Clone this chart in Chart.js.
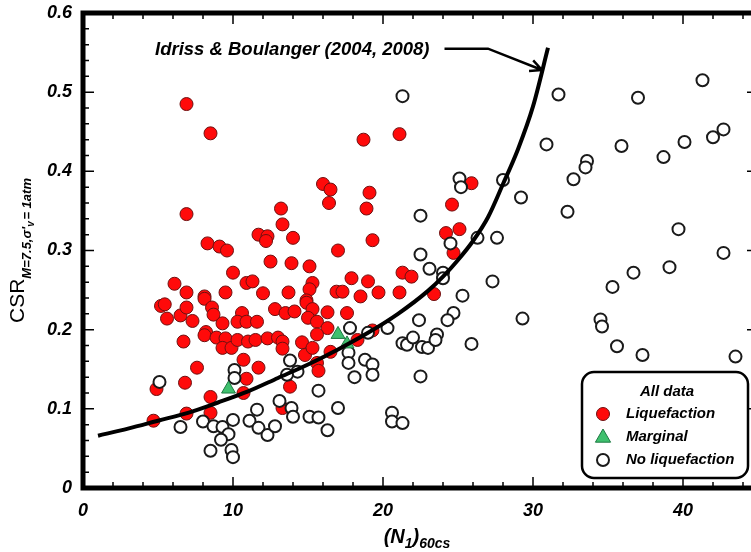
<!DOCTYPE html>
<html>
<head>
<meta charset="utf-8">
<script src="https://cdn.jsdelivr.net/npm/chart.js@4.4.0/dist/chart.umd.min.js"></script>
<style>
  html, body { margin: 0; padding: 0; background: #fff; overflow: hidden; }
  #wrap { width: 751px; height: 552px; overflow: hidden; }
</style>
</head>
<body>
<div id="wrap"><canvas id="chart" width="767" height="552"></canvas></div>
<script>
// (N1)60cs and CSR values
const liqN = [6.9, 8.5, 6.9, 8.3, 9.1, 9.6, 10.0, 6.1, 10.9, 11.3, 6.9, 8.1, 9.5, 12.0, 11.7, 12.3, 12.2, 12.5, 13.2, 13.3,
  18.7, 21.1, 16.0, 16.5, 16.4, 19.1, 18.9, 14.0, 19.3, 17.0, 25.9, 24.6, 25.1, 24.2, 13.9, 15.1, 13.7, 15.3, 15.1, 14.9,
  16.9, 17.3, 17.9, 19.0, 18.5, 19.7, 21.3, 21.9, 21.1, 23.4, 24.7, 5.2, 5.45, 5.6, 6.5, 6.9, 7.3, 8.1, 8.6, 8.7,
  9.3, 8.2, 8.1, 8.9, 9.5, 9.3, 9.9, 10.3, 10.6, 10.3, 10.9, 11.6, 11.0, 11.5, 6.7, 10.7, 7.6, 11.7, 10.9, 6.8,
  4.9, 10.7, 8.5, 8.5, 6.9, 4.7, 12.8, 13.5, 14.1, 14.9, 15.3, 16.3, 17.6, 15.0, 15.6, 16.3, 12.3, 13.0, 13.3, 13.3,
  14.6, 14.8, 15.3, 15.6, 16.5, 15.6, 15.7, 13.8, 13.3, 18.3, 19.3];
const liqCSR = [0.485, 0.448, 0.346, 0.309, 0.305, 0.300, 0.272, 0.258, 0.259, 0.261, 0.247, 0.242, 0.247, 0.246, 0.320, 0.318, 0.312, 0.286, 0.353, 0.333,
  0.440, 0.447, 0.384, 0.377, 0.360, 0.373, 0.353, 0.316, 0.313, 0.300, 0.385, 0.358, 0.327, 0.322, 0.284, 0.280, 0.247, 0.259, 0.251, 0.237,
  0.248, 0.248, 0.265, 0.261, 0.242, 0.247, 0.272, 0.267, 0.247, 0.245, 0.297, 0.230, 0.232, 0.214, 0.218, 0.228, 0.211, 0.239, 0.228, 0.219,
  0.208, 0.197, 0.193, 0.190, 0.189, 0.177, 0.177, 0.187, 0.221, 0.210, 0.210, 0.210, 0.185, 0.187, 0.185, 0.162, 0.152, 0.152, 0.138, 0.133,
  0.125, 0.120, 0.115, 0.095, 0.094, 0.085, 0.226, 0.221, 0.223, 0.234, 0.226, 0.222, 0.221, 0.215, 0.210, 0.202, 0.189, 0.190, 0.185, 0.176,
  0.184, 0.168, 0.177, 0.194, 0.172, 0.158, 0.148, 0.128, 0.101, 0.187, 0.199];

const margN = [9.7, 17.0, 17.6];
const margCSR = [0.125, 0.194, 0.182];

const nonN = [5.1, 10.1, 10.1, 6.5, 8.0, 8.7, 9.3, 10.0, 9.7, 9.2, 8.5, 9.9, 10.0, 11.1, 11.6, 11.7, 12.3, 12.8, 13.1, 13.9,
  14.0, 15.1, 15.7, 16.3, 17.0, 15.7, 13.8, 14.3, 13.6, 17.7, 17.7, 18.8, 19.3, 19.3, 18.1, 17.8, 19.0, 20.3, 20.6, 20.6,
  21.3, 21.3, 21.6, 22.0, 22.6, 23.0, 22.5, 22.4, 23.6, 23.5, 24.7, 24.3, 25.9, 25.3, 24.0, 24.0, 23.1, 22.5, 24.5, 26.3,
  27.6, 27.3, 29.3, 22.5, 21.3, 25.1, 25.2, 28.0, 29.2, 30.9, 31.7, 32.7, 32.3, 33.6, 33.5, 35.9, 37.0, 38.7, 40.1, 41.3,
  42.0, 42.7, 39.7, 42.7, 39.1, 36.7, 35.3, 34.5, 34.6, 35.6, 37.3, 43.5];
const nonCSR = [0.134, 0.149, 0.139, 0.077, 0.084, 0.078, 0.077, 0.086, 0.068, 0.061, 0.047, 0.048, 0.039, 0.085, 0.099, 0.076, 0.067, 0.078, 0.110, 0.101,
  0.090, 0.090, 0.089, 0.073, 0.101, 0.123, 0.161, 0.147, 0.143, 0.171, 0.158, 0.162, 0.156, 0.143, 0.140, 0.202, 0.196, 0.202, 0.095, 0.084,
  0.082, 0.183, 0.181, 0.190, 0.178, 0.177, 0.141, 0.212, 0.194, 0.187, 0.221, 0.212, 0.182, 0.243, 0.272, 0.265, 0.277, 0.295, 0.309, 0.316,
  0.316, 0.261, 0.214, 0.344, 0.495, 0.391, 0.380, 0.389, 0.367, 0.434, 0.497, 0.390, 0.349, 0.413, 0.405, 0.432, 0.493, 0.418, 0.437, 0.515,
  0.443, 0.453, 0.327, 0.297, 0.279, 0.272, 0.254, 0.213, 0.204, 0.179, 0.168, 0.166];

// Idriss & Boulanger boundary
const curveN = [1, 3, 5, 7, 9, 11, 13, 15, 17, 19, 21, 23, 24, 25, 26, 27, 28, 29, 30, 31];
const curveCSR = [0.066, 0.075, 0.085, 0.095, 0.108, 0.122, 0.139, 0.156, 0.175, 0.196, 0.220, 0.249, 0.267, 0.288, 0.312, 0.342, 0.384, 0.428, 0.482, 0.556];

const xTicks = [0, 10, 20, 30, 40];
const yTicks = [0, 0.1, 0.2, 0.3, 0.4, 0.5, 0.6];

const noteText = 'Idriss & Boulanger (2004, 2008)';
const noteAt = [4.8, 0.553];
const noteLine = [[24.1, 0.555], [27.0, 0.555], [30.6, 0.528]];

const FONT = '"Liberation Sans", Arial, sans-serif';
const VIEW_W = 751;
const pts = (xs, ys) => xs.map((v, i) => ({ x: v, y: ys[i] }));

// thick frame with inward minor/major ticks on all four sides
const frame = {
  id: 'frame',
  afterDatasetsDraw(chart) {
    const { ctx, chartArea: a, scales: { x, y } } = chart;
    ctx.save();
    ctx.strokeStyle = '#000';
    ctx.lineWidth = 1.5;
    ctx.beginPath();
    for (let v = 0; v <= 44; v += 2) {
      const px = x.getPixelForValue(v);
      const len = v % 10 === 0 ? 11 : 6;
      ctx.moveTo(px, a.bottom); ctx.lineTo(px, a.bottom - len);
      ctx.moveTo(px, a.top); ctx.lineTo(px, a.top + len);
    }
    for (let i = 0; i <= 30; i++) {
      const py = y.getPixelForValue(i / 50);
      const len = i % 5 === 0 ? 11 : 6;
      ctx.moveTo(a.left, py); ctx.lineTo(a.left + len, py);
      ctx.moveTo(a.right, py); ctx.lineTo(a.right - len, py);
    }
    ctx.stroke();
    ctx.lineWidth = 5;
    ctx.strokeRect(a.left, a.top, a.right - a.left, a.bottom - a.top);
    ctx.restore();
  }
};

const annot = {
  id: 'annot',
  afterDatasetsDraw(chart) {
    const { ctx, scales: { x, y } } = chart;
    ctx.save();
    ctx.fillStyle = '#000';
    ctx.strokeStyle = '#000';
    ctx.font = 'italic bold 18.5px ' + FONT;
    ctx.textBaseline = 'middle';
    ctx.fillText(noteText, x.getPixelForValue(noteAt[0]), y.getPixelForValue(noteAt[1]));
    const p = noteLine.map(q => [x.getPixelForValue(q[0]), y.getPixelForValue(q[1])]);
    ctx.lineWidth = 2.5;
    ctx.beginPath();
    p.forEach((q, i) => i ? ctx.lineTo(q[0], q[1]) : ctx.moveTo(q[0], q[1]));
    const a = p[p.length - 2], b = p[p.length - 1];
    const ang = Math.atan2(b[1] - a[1], b[0] - a[0]);
    for (const s of [-1, 1]) {
      ctx.moveTo(b[0], b[1]);
      ctx.lineTo(b[0] - 13 * Math.cos(ang + s * 0.45), b[1] - 13 * Math.sin(ang + s * 0.45));
    }
    ctx.stroke();
    ctx.restore();
  }
};

// axis titles with subscripts
const titles = {
  id: 'titles',
  afterDraw(chart) {
    const { ctx, chartArea: a } = chart;
    ctx.save();
    ctx.fillStyle = '#000';
    ctx.textBaseline = 'alphabetic';
    // y title
    ctx.translate(24, (a.top + a.bottom) / 2);
    ctx.rotate(-Math.PI / 2);
    const big = '21px ' + FONT, small = 'italic bold 13px ' + FONT;
    ctx.font = big; const w1 = ctx.measureText('CSR').width;
    ctx.font = small; const w2 = ctx.measureText('M=7.5,σ\'').width;
    const w3 = ctx.measureText('v').width, w4 = ctx.measureText('= 1atm').width;
    let sx = -(w1 + w2 + w3 + w4) / 2;
    ctx.font = big; ctx.fillText('CSR', sx, 0); sx += w1;
    ctx.font = small; ctx.fillText('M=7.5,σ\'', sx, 7); sx += w2;
    ctx.font = 'italic bold 10px ' + FONT; ctx.fillText('v', sx, 10); sx += w3;
    ctx.font = small; ctx.fillText('= 1atm', sx, 7);
    ctx.restore();
    // x title
    ctx.save();
    ctx.fillStyle = '#000';
    const xb = 'italic bold 20px ' + FONT, xs = 'italic bold 14px ' + FONT;
    const parts = [['(N', xb, 0], ['1', xs, 5], [')', xb, 0], ['60cs', xs, 5]];
    let tw = 0;
    parts.forEach(q => { ctx.font = q[1]; tw += ctx.measureText(q[0]).width; });
    let px = (a.left + VIEW_W) / 2 - tw / 2;
    parts.forEach(q => { ctx.font = q[1]; ctx.fillText(q[0], px, 543 + q[2]); px += ctx.measureText(q[0]).width; });
    ctx.restore();
  }
};

const legendBox = {
  id: 'legendBox',
  afterDraw(chart) {
    const { ctx, chartArea: a } = chart;
    const r = Math.min(a.right, VIEW_W + 7) - 10, b = a.bottom - 10, l = r - 166, t = b - 106;
    ctx.save();
    ctx.fillStyle = '#fff';
    ctx.strokeStyle = '#000';
    ctx.lineWidth = 2.5;
    ctx.beginPath();
    ctx.roundRect(l, t, r - l, b - t, 12);
    ctx.fill(); ctx.stroke();
    ctx.fillStyle = '#000';
    ctx.font = 'italic bold 15px ' + FONT;
    ctx.textBaseline = 'middle';
    ctx.textAlign = 'center';
    ctx.fillText('All data', l + 85, t + 20);
    ctx.textAlign = 'left';
    const rows = chart.data.datasets.filter(d => d.label !== 'curve');
    rows.forEach((d, i) => {
      const cy = t + 42 + i * 23, cx = l + 21;
      ctx.fillStyle = d.backgroundColor; ctx.strokeStyle = d.borderColor; ctx.lineWidth = d.borderWidth;
      ctx.beginPath();
      if (d.pointStyle === 'triangle') {
        const h = d.pointRadius;
        ctx.moveTo(cx, cy - h); ctx.lineTo(cx + h * 0.95, cy + h * 0.65); ctx.lineTo(cx - h * 0.95, cy + h * 0.65); ctx.closePath();
      } else {
        ctx.arc(cx, cy, d.pointRadius, 0, Math.PI * 2);
      }
      ctx.fill(); ctx.stroke();
      ctx.fillStyle = '#000';
      ctx.fillText(d.label, l + 44, cy);
    });
    ctx.restore();
  }
};

const tickFont = { family: FONT, size: 18, style: 'italic', weight: 'bold' };

new Chart(document.getElementById('chart'), {
  type: 'scatter',
  data: {
    datasets: [
      {
        label: 'Liquefaction', data: pts(liqN, liqCSR), order: 3,
        pointStyle: 'circle', pointRadius: 6.5, borderWidth: 1,
        backgroundColor: '#ff0a0a', borderColor: '#6e1010'
      },
      {
        label: 'Marginal', data: pts(margN, margCSR), order: 1,
        pointStyle: 'triangle', pointRadius: 8, borderWidth: 1,
        backgroundColor: '#3fc06e', borderColor: '#1d7a43'
      },
      {
        label: 'No liquefaction', data: pts(nonN, nonCSR), order: 2,
        pointStyle: 'circle', pointRadius: 6, borderWidth: 2,
        backgroundColor: '#ffffff', borderColor: '#1a1a1a'
      },
      {
        label: 'curve', type: 'line', data: pts(curveN, curveCSR), order: 0,
        showLine: true, pointRadius: 0, borderWidth: 4, borderColor: '#000',
        cubicInterpolationMode: 'monotone', fill: false
      }
    ]
  },
  options: {
    responsive: false,
    animation: false,
    layout: { padding: { top: 13, right: 0, left: 0, bottom: 0 } },
    plugins: { legend: { display: false }, tooltip: { enabled: false } },
    scales: {
      x: {
        type: 'linear', min: 0, max: 45,
        afterBuildTicks: s => { s.ticks = xTicks.map(v => ({ value: v })); },
        afterFit: s => { s.height = 64; s.paddingLeft = 0; s.paddingRight = 0; },
        grid: { display: false, drawTicks: false },
        border: { display: false },
        ticks: { color: '#000', font: tickFont, padding: 12, maxRotation: 0, callback: v => String(v) }
      },
      y: {
        type: 'linear', min: 0, max: 0.6,
        afterBuildTicks: s => { s.ticks = yTicks.map(v => ({ value: v })); },
        afterFit: s => { s.width = 83; s.paddingTop = 0; s.paddingBottom = 0; },
        grid: { display: false, drawTicks: false },
        border: { display: false },
        ticks: { color: '#000', font: tickFont, padding: 11, callback: v => v === 0 ? '0' : v.toFixed(1) }
      }
    }
  },
  plugins: [frame, annot, titles, legendBox]
});
</script>
</body>
</html>
